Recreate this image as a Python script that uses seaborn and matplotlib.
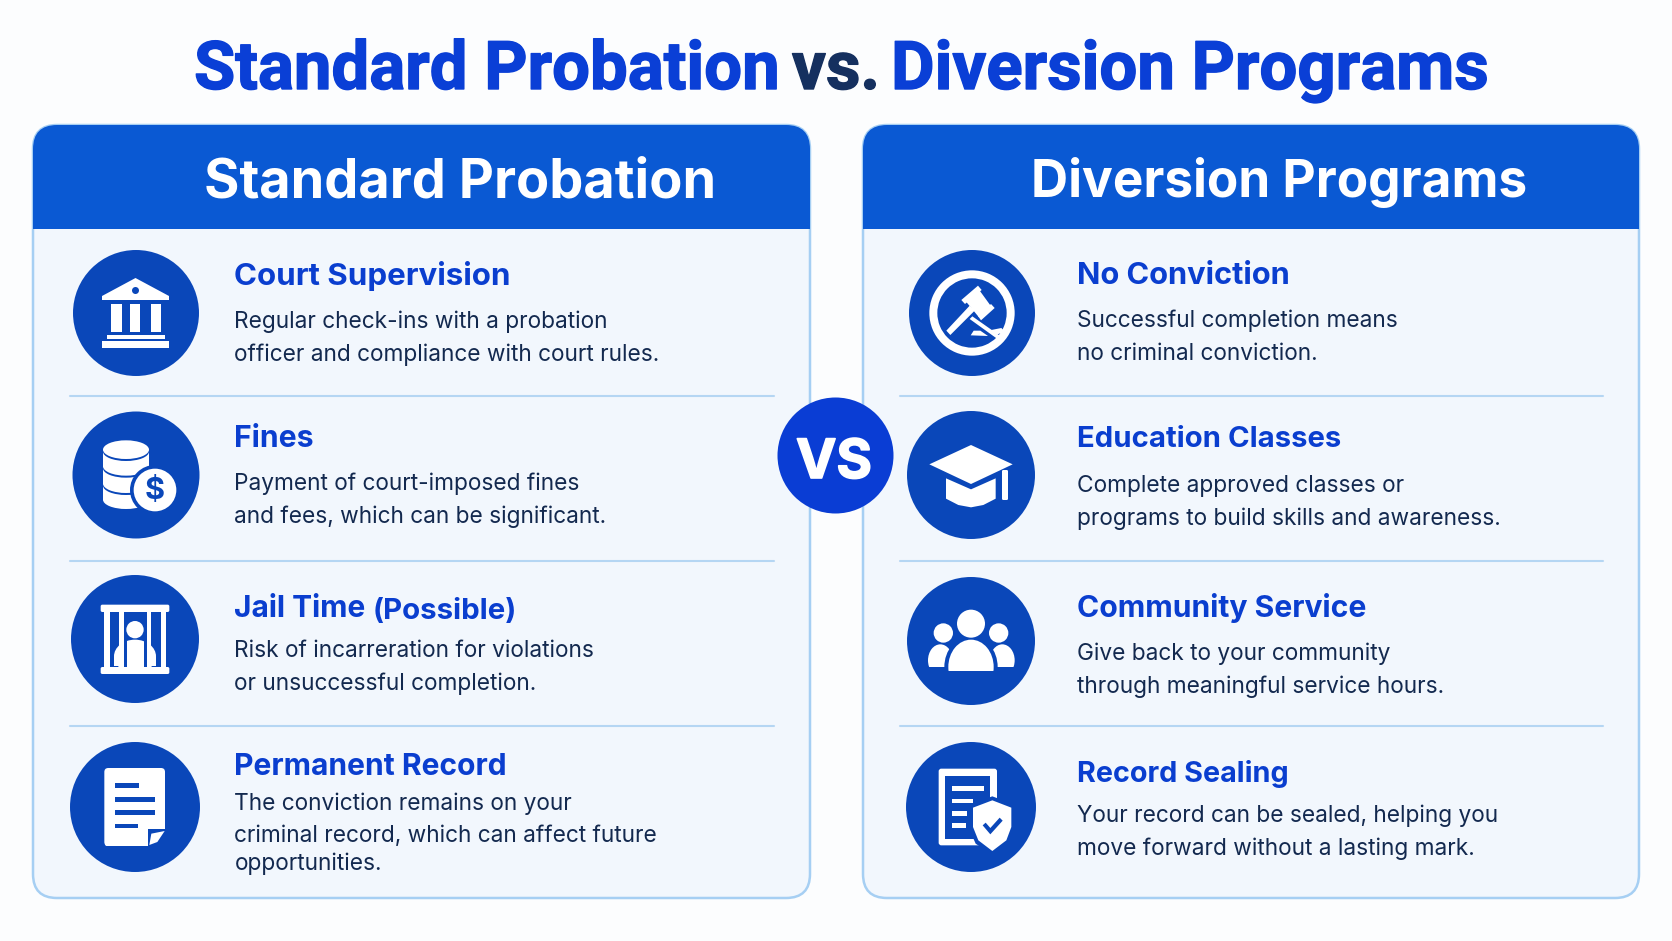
import matplotlib
matplotlib.use("Agg")
import matplotlib.pyplot as plt
import matplotlib.patheffects as pe
import seaborn as sns
import pandas as pd
from matplotlib.patches import Circle, Ellipse, FancyBboxPatch, Polygon, Rectangle, Wedge
from matplotlib.transforms import Affine2D

# chart text
main_title = ["Standard Probation", "vs.", "Diversion Programs"]
card_titles = ["Standard Probation", "Diversion Programs"]
left_heads = ["Court Supervision", "Fines", "Jail Time", "Permanent Record"]
right_heads = ["No Conviction", "Education Classes", "Community Service", "Record Sealing"]
left_body = [
    ["Regular check-ins with a probation", "officer and compliance with court rules."],
    ["Payment of court-imposed fines", "and fees, which can be significant."],
    ["Risk of incarreration for violations", "or unsuccessful completion."],
    ["The conviction remains on your", "criminal record, which can affect future", "opportunities."],
]
right_body = [
    ["Successful completion means", "no criminal conviction."],
    ["Complete approved classes or", "programs to build skills and awareness."],
    ["Give back to your community", "through meaningful service hours."],
    ["Your record can be sealed, helping you", "move forward without a lasting mark."],
]

# layout, in reference pixels
left_discs = pd.DataFrame({"x": [136, 136, 135, 135], "y": [313, 475, 639, 807], "r": [63, 63.5, 64, 65]})
right_discs = pd.DataFrame({"x": [972, 971, 971, 971], "y": [313, 475, 641, 807], "r": [63, 64, 64, 65]})
left_head_y = [285, 447, 617, 775]
right_head_y = [284, 447, 617, 782]
left_head_size = [22.5, 21.7, 21.5, 21.6]
right_head_size = [22.2, 21.1, 21.7, 20.7]
left_body_y = [[328, 361], [490, 523], [657, 690], [810, 842, 870]]
right_body_y = [[327, 360], [492, 525], [660, 693], [822, 855]]
divider_y = [396, 561, 726]

BLUE_TITLE = "#0a3fd6"
BLUE_HEAD = "#0a3ecf"
BLUE_HEADER = "#0a59d3"
BLUE_DISC = "#0a47b9"
BLUE_VS = "#0a3dd4"
NAVY = "#15305f"
BODY = "#13294f"
CARD = "#f2f7fd"
BORDER = "#a6cff3"
WHITE = "#ffffff"

sns.set_theme(style="white")
plt.rcParams["font.family"] = ["Inter", "Liberation Sans", "DejaVu Sans"]

fig, ax = plt.subplots(figsize=(16.72, 9.41), dpi=100)
fig.patch.set_facecolor("#fcfdfe")
ax.set_position([0, 0, 1, 1])
ax.set_xlim(0, 1672)
ax.set_ylim(941, 0)
ax.axis("off")


def draw_card(x0, x1, title, title_x, title_size):
    box = dict(boxstyle="round,pad=0,rounding_size=24")
    card = FancyBboxPatch((x0, 125), x1 - x0, 773, fc=CARD, ec=BORDER, lw=1.8, zorder=1, **box)
    ax.add_patch(card)
    header = Rectangle((x0 - 1, 124), x1 - x0 + 2, 105, fc=BLUE_HEADER, ec="none", zorder=2)
    ax.add_patch(header)
    header.set_clip_path(card)
    ax.text(title_x, 197, title, color=WHITE, fontsize=title_size, fontweight="bold", ha="left",
            va="baseline", zorder=3)
    for y in divider_y:
        ax.plot([x0 + 37, x1 - 36], [y, y], color="#b5d6f3", lw=1.5, zorder=2)


def draw_rows(discs, heads, head_y, sizes, body, body_y, head_x, body_x):
    sns.scatterplot(data=discs, x="x", y="y", s=(discs["r"] * 2 * 0.72) ** 2, color=BLUE_DISC,
                    linewidth=0, legend=False, ax=ax, zorder=3)
    for head, y, size in zip(heads, head_y, sizes):
        ax.text(head_x, y, head, color=BLUE_HEAD, fontsize=size, fontweight="bold", va="baseline", zorder=3)
    for lines, ys in zip(body, body_y):
        for line, y in zip(lines, ys):
            ax.text(body_x, y, line, color=BODY, fontsize=16.35, va="baseline", zorder=3)


def local(cx, cy, ox=0, oy=0, k=1 / 3):
    # icons were measured in zoomed crops, this maps those numbers back to the page
    return Affine2D().translate(-ox, -oy).scale(k).translate(cx, cy) + ax.transData


def put(tf, patch, z=4):
    patch.set_transform(tf)
    patch.set_zorder(z)
    ax.add_patch(patch)
    return patch


def rect(tf, x0, y0, x1, y1, color=WHITE, z=4, pad=0):
    if pad:
        p = FancyBboxPatch((x0, y0), x1 - x0, y1 - y0, boxstyle=f"round,pad=0,rounding_size={pad}",
                           fc=color, ec="none")
    else:
        p = Rectangle((x0, y0), x1 - x0, y1 - y0, fc=color, ec="none")
    return put(tf, p, z)


def poly(tf, pts, color=WHITE, z=4):
    return put(tf, Polygon(pts, closed=True, fc=color, ec="none"), z)


def icon_bank(cx, cy):
    tf = local(cx, cy, 136, 312, 1)
    poly(tf, [(135.5, 277), (102, 295), (102, 299), (169, 299), (169, 295)])
    put(tf, Circle((135.5, 289.5), 3.5, fc=BLUE_DISC, ec="none"), 5)
    for x0, x1 in [(111, 122), (130, 140), (151, 161)]:
        rect(tf, x0, 303, x1, 331)
    rect(tf, 107, 334, 165, 338)
    rect(tf, 102, 340, 169, 347)


def icon_coins(cx, cy):
    tf = local(cx, cy, 228, 225)
    # stacked from the bottom up, each coin leaves a blue crescent on the one below
    put(tf, Ellipse((198, 299), 138, 56, fc=WHITE, ec="none"), 4)
    rect(tf, 130, 257, 268, 299, z=4)
    for c in [257, 205, 155]:
        put(tf, Ellipse((198, c), 138, 56, fc=BLUE_DISC, ec="none"), 4)
        rect(tf, 130, c - 50 if c > 155 else c - 5, 268, c - 5, z=4)
        put(tf, Ellipse((198, c - 6), 138, 56, fc=WHITE, ec="none"), 4)
    put(tf, Circle((285, 270), 75, fc=BLUE_DISC, ec="none"), 5)
    put(tf, Circle((285, 270), 64, fc=WHITE, ec="none"), 5)
    ax.text(cx + (285 - 228) / 3, cy + (270 - 225) / 3 + 0.5, "$", color=BLUE_DISC, fontsize=22,
            fontweight="bold", ha="center", va="center", zorder=6)


def icon_jail(cx, cy):
    tf = local(cx, cy, 285, 298)
    rect(tf, 182, 195, 388, 217, pad=5)
    rect(tf, 182, 382, 388, 403, pad=5)
    for x0, x1 in [(193, 210), (238, 253), (320, 333), (362, 378)]:
        rect(tf, x0, 205, x1, 390)
    put(tf, Circle((285, 270), 26, fc=WHITE, ec="none"))
    put(tf, Ellipse((285, 350), 126, 100, fc=WHITE, ec="none"))
    rect(tf, 222, 352, 348, 380)
    rect(tf, 253, 300, 260, 382, BLUE_DISC, 5)
    rect(tf, 312, 300, 320, 382, BLUE_DISC, 5)
    rect(tf, 210, 345, 222, 380, BLUE_DISC, 5)
    rect(tf, 348, 345, 362, 380, BLUE_DISC, 5)


def icon_doc(cx, cy):
    tf = local(cx, cy, 285, 800)
    rect(tf, 193, 683, 375, 917, pad=12)
    poly(tf, [(323, 925), (323, 865), (385, 865), (385, 925)], BLUE_DISC, 5)
    poly(tf, [(328, 914), (334, 880), (374, 872), (352, 905)], WHITE, 6)
    rect(tf, 195, 880, 323, 917, z=5, pad=6)
    for y, x1 in [(735, 298), (777, 345), (816, 345), (856, 295)]:
        rect(tf, 225, y - 6.5, x1, y + 6.5, BLUE_DISC, 5)


def icon_gavel(cx, cy):
    tf = local(cx, cy, 187, 187)
    put(tf, Wedge((187, 187), 128, 0, 360, width=24, fc=WHITE, ec="none"))
    poly(tf, [(165, 148), (205, 113), (245, 168), (208, 200)])
    poly(tf, [(155, 148), (205, 105), (216, 118), (166, 160)])
    poly(tf, [(205, 196), (244, 160), (255, 172), (214, 209)])
    poly(tf, [(110, 240), (122, 253), (195, 180), (180, 165)])
    poly(tf, [(180, 205), (188, 197), (272, 256), (262, 264)])
    poly(tf, [(183, 254), (192, 240), (212, 240), (235, 256)])
    poly(tf, [(235, 240), (275, 232), (285, 242), (262, 252)])


def icon_cap(cx, cy):
    tf = local(cx, cy, 273, 735)
    poly(tf, [(198, 745), (273, 778), (347, 745), (347, 806), (310, 825), (273, 832), (235, 825), (198, 806)])
    poly(tf, [(148, 703), (273, 645), (398, 703), (273, 762)])
    rect(tf, 366, 720, 384, 810, pad=4)


def icon_people(cx, cy):
    tf = local(cx, cy, 274, 242)
    for hx in [191, 357]:
        put(tf, Circle((hx, 218), 29, fc=WHITE, ec="none"))
    put(tf, Ellipse((182, 300), 74, 96, fc=WHITE, ec="none"))
    put(tf, Ellipse((368, 300), 74, 96, fc=WHITE, ec="none"))
    rect(tf, 140, 320, 410, 360, BLUE_DISC, 4)
    put(tf, Ellipse((274, 320), 160, 186, fc=BLUE_DISC, ec="none"), 5)
    put(tf, Ellipse((274, 320), 136, 164, fc=WHITE, ec="none"), 5)
    rect(tf, 190, 333, 360, 410, BLUE_DISC, 5)
    put(tf, Circle((274, 190), 42, fc=WHITE, ec="none"), 5)


def icon_shield(cx, cy):
    tf = local(cx, cy, 274, 740)
    rect(tf, 177, 625, 352, 855, pad=8)
    rect(tf, 197, 647, 332, 835, BLUE_DISC, 4)
    for y, x1 in [(685, 312), (722, 280), (760, 262), (796, 258)]:
        rect(tf, 218, y - 7, x1, y + 7)
    shape = [(338, 720), (395, 742), (395, 800), (380, 840), (338, 872), (296, 840), (280, 800), (280, 742)]
    poly(tf, [(338, 708), (407, 734), (407, 805), (388, 850), (338, 884), (288, 850), (268, 805), (268, 734)],
         BLUE_DISC, 5)
    poly(tf, shape, WHITE, 5)
    poly(tf, [(309, 795), (318, 787), (332, 803), (360, 772), (369, 781), (332, 822)], BLUE_DISC, 6)


# page title, a narrower bold face fits the reference better here
for txt, x, col in zip(main_title, [194, 792, 891], [BLUE_TITLE, NAVY, BLUE_TITLE]):
    ax.text(x, 89, txt, color=col, fontsize=48.3, fontweight="bold", family=["Roboto", "DejaVu Sans"],
            ha="left", va="baseline", zorder=3,
            path_effects=[pe.withStroke(linewidth=1.0, foreground=col)])

draw_card(33, 810, card_titles[0], 204, 39)
draw_card(863, 1639, card_titles[1], 1031, 37)

draw_rows(left_discs, left_heads, left_head_y, left_head_size, left_body, left_body_y, 234.5, 234.5)
draw_rows(right_discs, right_heads, right_head_y, right_head_size, right_body, right_body_y, 1077, 1077)
ax.text(373, 619, "(Possible)", color=BLUE_HEAD, fontsize=21.2, fontweight="bold", va="baseline", zorder=3)

for draw, row in zip([icon_bank, icon_coins, icon_jail, icon_doc], left_discs.itertuples()):
    draw(row.x, row.y)
for draw, row in zip([icon_gavel, icon_cap, icon_people, icon_shield], right_discs.itertuples()):
    draw(row.x, row.y)

# the VS badge sits over both cards
sns.scatterplot(x=[835], y=[455], s=(58 * 2 * 0.72) ** 2, color=BLUE_VS, linewidth=0, legend=False, ax=ax, zorder=6)
ax.text(834, 478, "VS", color=WHITE, fontsize=39, fontweight="bold", ha="center", va="baseline", zorder=7,
        path_effects=[pe.withStroke(linewidth=1.2, foreground=WHITE)])

fig.savefig("out.png", dpi=100, facecolor=fig.get_facecolor())
plt.close(fig)
